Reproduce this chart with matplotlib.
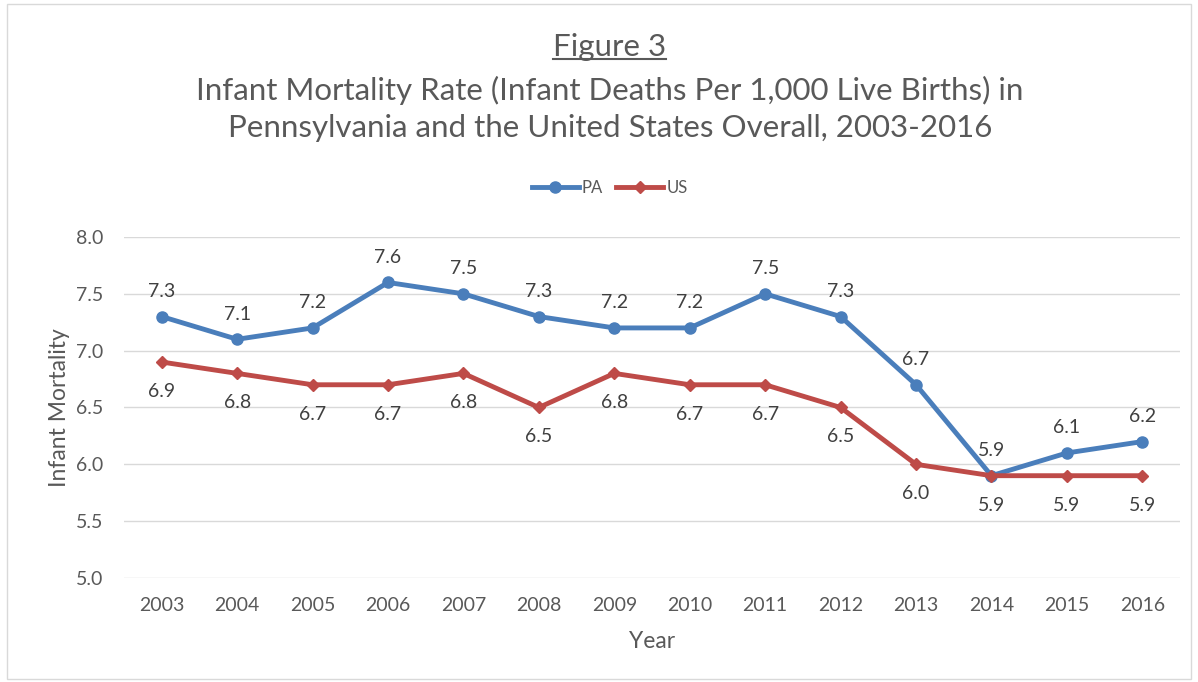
import matplotlib.pyplot as plt
from matplotlib.lines import Line2D
from matplotlib.patches import Rectangle

years = ["2003", "2004", "2005", "2006", "2007", "2008", "2009",
         "2010", "2011", "2012", "2013", "2014", "2015", "2016"]
pa = [7.3, 7.1, 7.2, 7.6, 7.5, 7.3, 7.2, 7.2, 7.5, 7.3, 6.7, 5.9, 6.1, 6.2]
us = [6.9, 6.8, 6.7, 6.7, 6.8, 6.5, 6.8, 6.7, 6.7, 6.5, 6.0, 5.9, 5.9, 5.9]
yticks = [5.0, 5.5, 6.0, 6.5, 7.0, 7.5, 8.0]

plt.rcParams['font.family'] = ['Lato', 'DejaVu Sans']

blue = "#4a7ebb"
red = "#be4b48"
txt = "#595959"

fig = plt.figure(figsize=(11.98, 6.82), dpi=100)
ax = fig.add_axes([0.1035, 0.1525, 0.8815, 0.5])

x = list(range(len(years)))
ax.plot(x, pa, color=blue, lw=3.5, marker="o", ms=8, label="PA", zorder=3)
ax.plot(x, us, color=red, lw=3.5, marker="D", ms=6.5, label="US", zorder=3)

# data labels: PA above, US below
for i, v in enumerate(pa):
    ax.annotate(f"{v:.1f}", (i, v), xytext=(0, 12), textcoords="offset points",
                ha="center", va="bottom", fontsize=14, color="#404040")
for i, v in enumerate(us):
    ax.annotate(f"{v:.1f}", (i, v), xytext=(0, -15), textcoords="offset points",
                ha="center", va="top", fontsize=14, color="#404040")

ax.set_xlim(-0.5, len(years) - 0.5)
ax.set_ylim(5.0, 8.0)
ax.set_xticks(x)
ax.set_xticklabels(years)
ax.set_yticks(yticks)
ax.set_yticklabels([f"{t:.1f}" for t in yticks])
ax.tick_params(length=0, labelsize=14, colors=txt)
ax.tick_params(axis="x", pad=14)
ax.tick_params(axis="y", pad=15)
ax.grid(axis="y", color="#d9d9d9", lw=1)
ax.set_axisbelow(True)
for s in ax.spines.values():
    s.set_visible(False)

ax.set_xlabel("Year", fontsize=16.5, color=txt, labelpad=12)
ax.set_ylabel("Infant Mortality", fontsize=16.5, color=txt, labelpad=4)

# titles
fig_t = fig.text(0.509, 0.931, "Figure 3", ha="center", va="center", fontsize=22.5, color=txt)
fig.text(0.509, 0.868, "Infant Mortality Rate (Infant Deaths Per 1,000 Live Births) in",
         ha="center", va="center", fontsize=22.5, color=txt)
fig.text(0.509, 0.812, "Pennsylvania and the United States Overall, 2003-2016",
         ha="center", va="center", fontsize=22.5, color=txt)

# underline under "Figure 3", sized to the text
fig.canvas.draw()
bb = fig_t.get_window_extent().transformed(fig.transFigure.inverted())
fig.add_artist(Line2D([bb.x0, bb.x1], [bb.y0 + 0.003, bb.y0 + 0.003], color=txt, lw=1.5))

fig.legend(loc="center", bbox_to_anchor=(0.509, 0.724), ncol=2, frameon=False,
           fontsize=12, labelcolor=txt, handlelength=2.8, handletextpad=0.2,
           columnspacing=0.8)

# outer chart border
fig.add_artist(Rectangle((0.006, 0.004), 0.988, 0.99, transform=fig.transFigure,
                         fill=False, ec="#d9d9d9", lw=1))

fig.savefig("out.png", dpi=100)
